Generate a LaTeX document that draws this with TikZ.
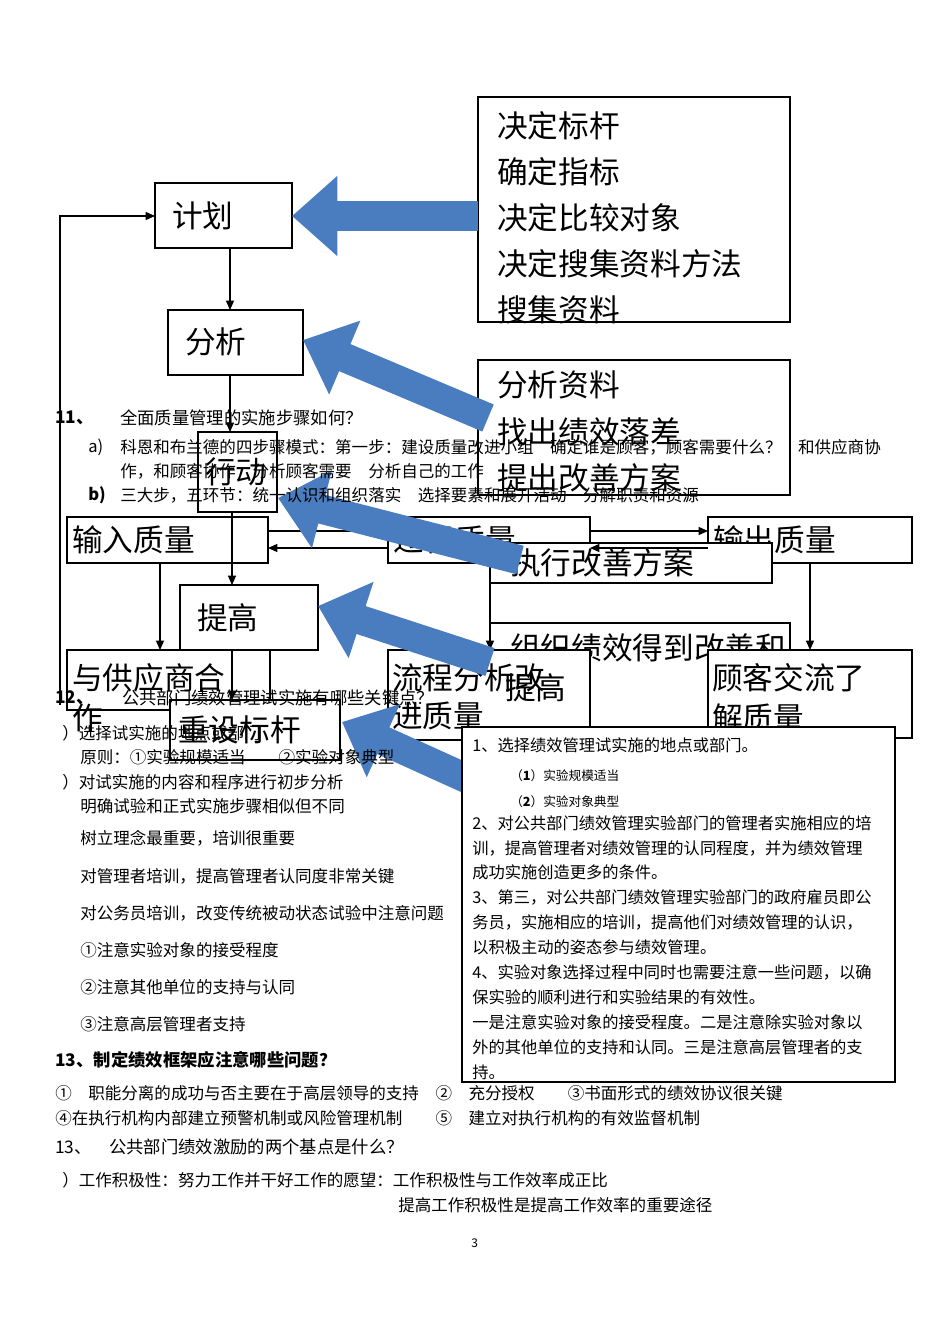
\documentclass[tikz,border=0pt]{standalone}
\usepackage{fontspec}
\setmainfont{Noto Sans CJK SC}
\usetikzlibrary{arrows.meta}
\definecolor{bblue}{HTML}{4A7DC0}
\tikzset{
 bx/.style={draw,line width=1.5pt,fill=white},
 bt/.style={anchor=west,font=\fontsize{23}{26}\selectfont,inner sep=0pt},
 ar/.style={-{Triangle[length=7pt,width=6pt]},line width=0.9pt},
 big/.style={bblue,line width=22pt,-{Triangle[length=34pt,width=58pt]}},
 tx/.style={anchor=west,inner sep=0pt,font=\fontsize{12.4}{14}\selectfont},
}
\begin{document}
\begin{tikzpicture}[x=0.75pt,y=-0.75pt]
\useasboundingbox (0,0) rectangle (950,1344);
% boxes
\draw[bx] (478,97) rectangle (790,322);
\foreach \t [count=\i] in {决定标杆,确定指标,决定比较对象,决定搜集资料方法,搜集资料}
  \node[bt] at (497,80+46*\i) {\t};
\draw[bx] (155,183) rectangle (292,248); \node[bt] (jh) at (172,216) {计划};
\draw[bx] (168,310) rectangle (303,375); \node[bt] at (185,342) {分析};
\draw[bx] (478,360) rectangle (790,495);
\node[bt] at (497,385) {分析资料}; \node[bt] at (497,432) {找出绩效落差}; \node[bt] at (497,478) {提出改善方案};
\draw[bx] (198,432) rectangle (277,512); \node[bt] at (205,472) {行动};
\draw[bx] (67,517) rectangle (268,563); \node[bt] at (72,540) {输入质量};
\draw[bx] (388,517) rectangle (590,563); \node[bt] at (393,540) {过程质量};
\draw[bx] (708,517) rectangle (912,563); \node[bt] at (713,540) {输出质量};
\draw[bx] (490,543) rectangle (772,583); \node[bt] at (510,563) {执行改善方案};
\draw[bx] (180,585) rectangle (318,650); \node[bt] at (197,618) {提高};
\draw[bx] (490,623) rectangle (790,740); \node[bt] at (510,648) {组织绩效得到改善和};
\draw[bx] (67,650) rectangle (270,710); \node[bt] at (72,678) {与供应商合}; \node[bt] at (72,718) {作};
\draw[bx] (388,650) rectangle (590,740); \node[bt] at (392,678) {流程分析改}; \node[bt] at (392,716) {进质量};
\node[bt] at (505,688) {提高};
\draw[bx] (708,650) rectangle (912,738); \node[bt] at (712,678) {顾客交流了}; \node[bt] at (712,718) {解质量};
\draw[bx] (170,700) rectangle (340,760); \node[bt] at (178,730) {重设标杆};
% thin arrows
\draw[ar] (230,248) -- (230,310);
\draw[ar] (230,375) -- (230,432);
\draw[ar] (232,512) -- (232,585);
\draw[ar] (232,650) -- (232,700);
\draw[ar] (60,705) -- (60,216) -- (155,216);
\draw[ar] (160,563) -- (160,650);
\draw[ar] (490,583) -- (490,650);
\draw[ar] (810,563) -- (810,650);
\draw[ar] (268,531) -- (388,531); \draw[ar] (388,548) -- (268,548);
\draw[ar] (590,531) -- (708,531); \draw[ar] (708,548) -- (590,548);
% big blue arrows
\draw[big] (478,216) -- (292,216);
\draw[big] (488,418) -- (303,340);
\draw[big] (520,560) -- (278,498);
\draw[big] (490,662) -- (318,606);
\draw[big] (470,780) -- (342,722);
% right text box
\draw[line width=0.8pt,fill=white] (462,727) rectangle (895,1082);
\foreach \t/\y in {1、选择绩效管理试实施的地点或部门。/745,
 2、对公共部门绩效管理实验部门的管理者实施相应的培/823,
 训，提高管理者对绩效管理的认同程度，并为绩效管理/848,
 成功实施创造更多的条件。/872,
 3、第三，对公共部门绩效管理实验部门的政府雇员即公/897,
 务员，实施相应的培训，提高他们对绩效管理的认识，/922,
 以积极主动的姿态参与绩效管理。/947,
 4、实验对象选择过程中同时也需要注意一些问题，以确/972,
 保实验的顺利进行和实验结果的有效性。/997,
 一是注意实验对象的接受程度。二是注意除实验对象以/1022,
 外的其他单位的支持和认同。三是注意高层管理者的支/1047,
 持。/1072}
 \node[tx,font=\fontsize{12.2}{13}\selectfont] at (472,\y) {\t};
\node[tx,font=\fontsize{9.5}{11}\selectfont] at (510,776) {（\textbf{1}）实验规模适当};
\node[tx,font=\fontsize{9.5}{11}\selectfont] at (510,802) {（\textbf{2}）实验对象典型};
% page text
\node[tx,font=\bfseries\fontsize{13}{14}\selectfont] at (55,418) {11、};
\node[tx,font=\fontsize{13}{14}\selectfont] at (120,418) {全面质量管理的实施步骤如何？};
\node[tx] at (88,447) {a)};
\node[tx] at (120,447) {科恩和布兰德的四步骤模式：第一步：建设质量改进小组\quad 确定谁是顾客，顾客需要什么？\quad 和供应商协};
\node[tx] at (120,471) {作，和顾客协作\quad 分析顾客需要\quad 分析自己的工作};
\node[tx,font=\bfseries\fontsize{12.4}{14}\selectfont] at (88,495) {b)};
\node[tx] at (120,495) {三大步，五环节：统一认识和组织落实\quad 选择要素和展开活动\quad 分解职责和资源};
\node[tx,font=\bfseries\fontsize{13}{14}\selectfont] at (55,698) {12、};
\node[tx,font=\fontsize{13}{14}\selectfont] at (122,698) {公共部门绩效管理试实施有哪些关键点？};
\node[tx] at (62,733) {）选择试实施的地点或部门};
\node[tx] at (80,757) {原则：①实验规模适当\qquad ②实验对象典型};
\node[tx] at (62,782) {）对试实施的内容和程序进行初步分析};
\node[tx] at (80,806) {明确试验和正式实施步骤相似但不同};
\node[tx] at (80,838) {树立理念最重要，培训很重要};
\node[tx] at (80,876) {对管理者培训，提高管理者认同度非常关键};
\node[tx] at (80,913) {对公务员培训，改变传统被动状态试验中注意问题};
\node[tx] at (80,950) {①注意实验对象的接受程度};
\node[tx] at (80,987) {②注意其他单位的支持与认同};
\node[tx] at (80,1024) {③注意高层管理者支持};
\node[tx,font=\bfseries\fontsize{13}{14}\selectfont] at (55,1060) {13、制定绩效框架应注意哪些问题？};
\node[tx] at (55,1093) {①\quad 职能分离的成功与否主要在于高层领导的支持\quad ②\quad 充分授权\qquad ③书面形式的绩效协议很关键};
\node[tx] at (55,1118) {④在执行机构内部建立预警机制或风险管理机制\qquad ⑤\quad 建立对执行机构的有效监督机制};
\node[tx,font=\fontsize{13}{14}\selectfont] at (55,1147) {13、\quad 公共部门绩效激励的两个基点是什么？};
\node[tx] at (62,1180) {）工作积极性：努力工作并干好工作的愿望：工作积极性与工作效率成正比};
\node[tx] at (398,1205) {提高工作积极性是提高工作效率的重要途径};
\node[tx,font=\fontsize{9}{11}\selectfont] at (471,1243) {3};
\end{tikzpicture}
\end{document}
